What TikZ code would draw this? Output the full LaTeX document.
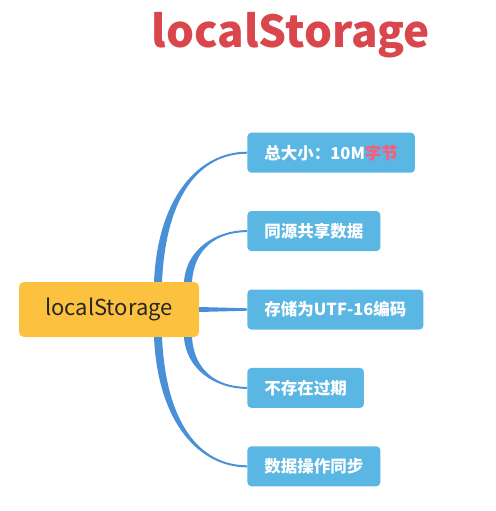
\documentclass[tikz,border=0pt]{standalone}
\usepackage{fontspec}
\usepackage{xcolor}
\usetikzlibrary{positioning,calc}
\newfontfamily\cjk{Noto Sans CJK SC}
\definecolor{rootfill}{HTML}{FCC13E}
\definecolor{leaffill}{HTML}{5AB6E2}
\definecolor{branchblue}{HTML}{4A90D9}
\definecolor{titlered}{HTML}{D9464C}
\definecolor{hotpink}{HTML}{FF5A78}
\newcommand{\branch}[6]{%
  \fill[br] ($(#1)+(-4,0)$) .. controls ($(#1)+(#3-4,#4)$) and ($(#2.west)+(-#5,#6)$) .. ($(#2.west)+(0,#6)$)
    -- ($(#2.west)+(0,{-1*(#6)})$) .. controls ($(#2.west)+(-#5,{-1*(#6)})$) and ($(#1)+(#3+4,#4)$) .. ($(#1)+(4,0)$) -- cycle;}

\begin{document}
\begin{tikzpicture}[x=1pt,y=1pt,
  ttl/.style={font=\cjk\bfseries\fontsize{44}{44}\selectfont,text=titlered,inner sep=0pt},
  rt/.style={fill=rootfill,rounded corners=5pt,minimum width=180pt,minimum height=55pt,
    font=\cjk\fontsize{22}{22}\selectfont,text=black!85},
  ch/.style={fill=leaffill,rounded corners=4pt,minimum height=40pt,inner xsep=17pt,
    font=\cjk\bfseries\fontsize{16.5}{16.5}\selectfont,text=white},
  br/.style={fill=branchblue}]
\useasboundingbox (0,0) rectangle (495,-511);
\node[ttl] (title) at (291,-35) {localStorage};
\node[rt] (root) at (109,-309.5) {localStorage};
\node[ch,right=48pt of root] (c3) {存储为UTF-16编码};
\node[ch,above=38pt of c3.north west,anchor=south west] (c2) {同源共享数据};
\node[ch,above=38pt of c2.north west,anchor=south west] (c1) {总大小：10M\textcolor{hotpink}{字节}};
\node[ch,below=38pt of c3.south west,anchor=north west] (c4) {不存在过期};
\node[ch,below=38pt of c4.south west,anchor=north west] (c5) {数据操作同步};
\coordinate (s1) at ([xshift=49pt]root.north);
\coordinate (s2) at ([xshift=79pt]root.north);
\coordinate (s4) at ([xshift=79pt]root.south);
\coordinate (s5) at ([xshift=49pt]root.south);
\branch{s1}{c1}{4}{87}{47}{1}
\branch{s2}{c2}{2}{32}{32}{1}
\branch{s4}{c4}{2}{-32}{32}{-1}
\branch{s5}{c5}{4}{-87}{47}{-1}
\fill[br] ($(root.east)+(0,2.5)$) -- ($(c3.west)+(0,1.2)$) -- ($(c3.west)+(0,-1.2)$) -- ($(root.east)+(0,-2.5)$) -- cycle;
\end{tikzpicture}
\end{document}
